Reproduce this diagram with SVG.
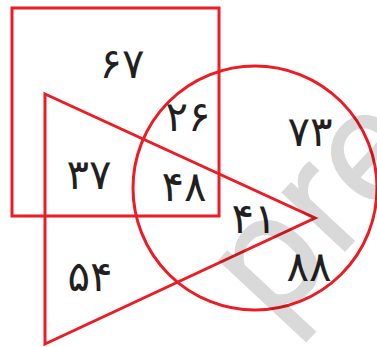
<svg xmlns="http://www.w3.org/2000/svg" width="377" height="347" viewBox="0 0 377 347">
  <style>
    .shape { fill: none; stroke: #ed1c24; stroke-width: 3; }
    .num { font-family: "DejaVu Sans", "Noto Sans", sans-serif; font-weight: normal; font-size: 42px; fill: #231f20; text-anchor: middle; letter-spacing: 3px; }
    .wm { font-family: "Roboto", "Liberation Sans", sans-serif; font-weight: normal; font-size: 165px; fill: #000; fill-opacity: 0.15; }
  </style>
  <rect width="377" height="347" fill="#fff"/>
  <g id="shapes">
    <g id="square"><rect class="shape" x="12" y="8" width="207" height="208"/></g>
    <g id="triangle"><polygon class="shape" points="45,94 315,218 45,344"/></g>
    <g id="circle"><circle class="shape" cx="255" cy="188" r="122"/></g>
  </g>
  <g id="labels">
    <g id="l67"><text class="num" x="122" y="78">۶۷</text></g>
    <g id="l26"><text class="num" x="188" y="131">۲۶</text></g>
    <g id="l73"><text class="num" x="310" y="146">۷۳</text></g>
    <g id="l37"><text class="num" x="89" y="189">۳۷</text></g>
    <g id="l48"><text class="num" x="184" y="201">۴۸</text></g>
    <g id="l41"><text class="num" x="254" y="233">۴۱</text></g>
    <g id="l88"><text class="num" x="309" y="281">۸۸</text></g>
    <g id="l54"><text class="num" x="90" y="291">۵۴</text></g>
  </g>
  <g id="watermark" transform="translate(274,328) rotate(-47)">
    <text class="wm" x="0" y="0">pre</text>
  </g>
</svg>
